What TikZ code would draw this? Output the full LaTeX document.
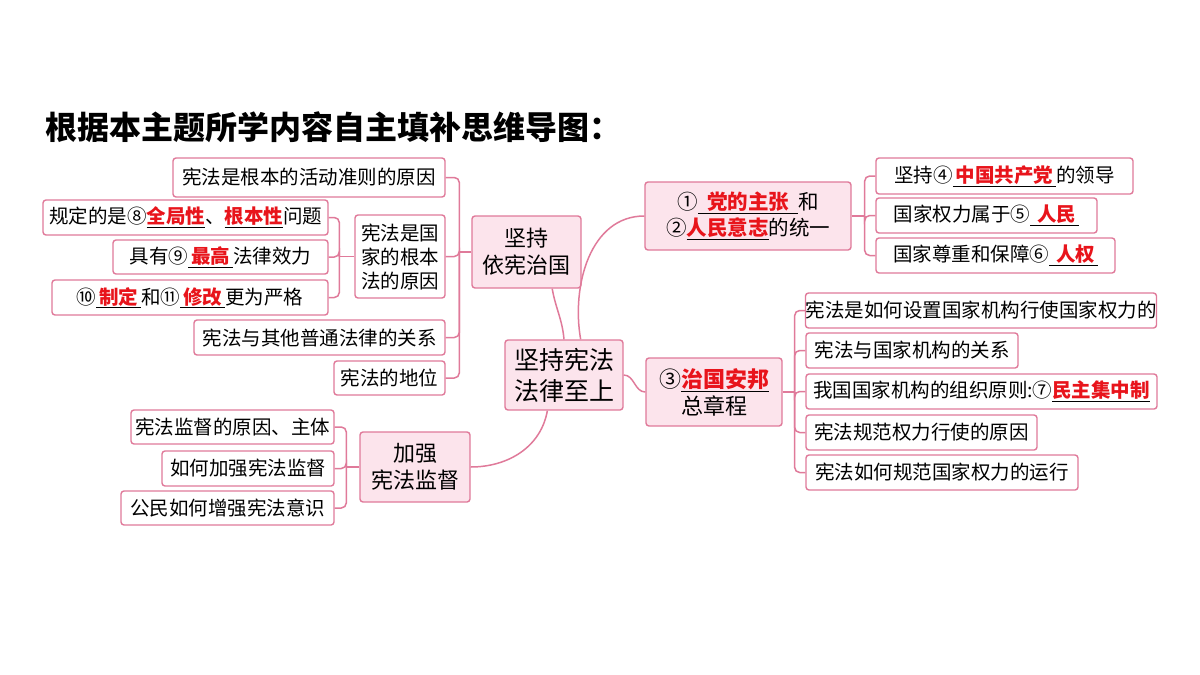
\documentclass[tikz,border=0pt]{standalone}
\usepackage{fontspec}
\setmainfont{Noto Sans CJK SC}
\usepackage{xcolor}
\definecolor{pk}{HTML}{E07A9A}
\definecolor{pkf}{HTML}{FCE4EC}
\definecolor{ansred}{HTML}{E8141B}
\newcommand\ans[1]{\underline{\textcolor{ansred}{\bfseries #1}}}
\newcommand\uans[1]{\underline{\hspace{3pt}\textcolor{ansred}{\bfseries #1}\hspace{3pt}}}
\begin{document}
\begin{tikzpicture}[x=1pt,y=-1pt,
  box/.style={draw=pk,line width=1.4pt,rounded corners=3pt,inner sep=0pt,align=center},
  leaf/.style={box,fill=white,font=\fontsize{19.5}{22}\selectfont},
  main/.style={box,fill=pkf,font=\fontsize{22}{27}\selectfont},
  con/.style={draw=pk,line width=1.5pt},
  br/.style={con,rounded corners=5pt}]
\useasboundingbox[fill=white] (0,0) rectangle (1200,675);
\node[anchor=west,font=\fontsize{32}{36}\selectfont\bfseries] (title) at (42,127) {根据本主题所学内容自主填补思维导图：};
% root
\node[main,minimum width=118pt,minimum height=70pt,font=\fontsize{25}{31}\selectfont] (root) at (564,375) {坚持宪法\\法律至上};
% left top
\node[main,minimum width=109pt,minimum height=72pt] (yx) at (526.5,252) {坚持\\依宪治国};
\node[main,fill=white,minimum width=90pt,minimum height=83pt,font=\fontsize{19.5}{24}\selectfont] (gbf) at (400,256.5) {宪法是国\\家的根本\\法的原因};
\node[leaf,minimum width=272pt,minimum height=39pt] (l1) at (309,177.5) {宪法是根本的活动准则的原因};
\node[leaf,minimum width=285pt,minimum height=35pt] (l2) at (185.5,217.5) {规定的是⑧\ans{全局性}、\ans{根本性}问题};
\node[leaf,minimum width=215pt,minimum height=34pt] (l3) at (220.5,257) {具有⑨\uans{最高}法律效力};
\node[leaf,minimum width=276pt,minimum height=35pt] (l4) at (190,297.5) {⑩\uans{制定}和⑪\uans{修改}更为严格};
\node[leaf,minimum width=251pt,minimum height=35pt] (l5) at (319.5,337.5) {宪法与其他普通法律的关系};
\node[leaf,minimum width=111pt,minimum height=34pt] (l6) at (389.5,378) {宪法的地位};
% left bottom
\node[main,minimum width=110pt,minimum height=70pt] (jd) at (415,467) {加强\\宪法监督};
\node[leaf,minimum width=203pt,minimum height=34pt] (m1) at (232.5,427) {宪法监督的原因、主体};
\node[leaf,minimum width=172pt,minimum height=35pt] (m2) at (248,468.5) {如何加强宪法监督};
\node[leaf,minimum width=213pt,minimum height=34pt] (m3) at (227.5,508) {公民如何增强宪法意识};
% right top
\node[main,minimum width=206pt,minimum height=68pt,font=\fontsize{20.5}{26}\selectfont] (ty) at (748,216) {①\uans{\hspace{6pt}党的主张\hspace{6pt}}和\\②\ans{人民意志}的统一};
\node[leaf,minimum width=257pt,minimum height=36pt] (r1) at (1004.5,176) {坚持④\uans{中国共产党}的领导};
\node[leaf,minimum width=221pt,minimum height=35pt] (r2) at (986.5,215.5) {国家权力属于⑤\uans{\hspace{4pt}人民}};
\node[leaf,minimum width=239pt,minimum height=35pt] (r3) at (995.5,255.5) {国家尊重和保障⑥\uans{\hspace{4pt}人权}};
% right bottom
\node[main,minimum width=136pt,minimum height=68pt] (zg) at (714,392) {③\ans{治国安邦}\\总章程};
\node[leaf,minimum width=350pt,minimum height=35pt] (s1) at (981,310.5) {宪法是如何设置国家机构行使国家权力的};
\node[leaf,minimum width=212pt,minimum height=35pt] (s2) at (912,350.5) {宪法与国家机构的关系};
\node[leaf,minimum width=351pt,minimum height=35pt] (s3) at (981.5,391.5) {我国国家机构的组织原则:⑦\ans{民主集中制}};
\node[leaf,minimum width=231pt,minimum height=35pt] (s4) at (921.5,432.5) {宪法规范权力行使的原因};
\node[leaf,minimum width=272pt,minimum height=35pt] (s5) at (942,472.5) {宪法如何规范国家权力的运行};
% brackets
\draw[con] (yx.west) -- ++(-12,0) coordinate (v1);
\foreach \c in {l1,gbf,l5,l6} \draw[br] (v1) |- (\c.east);
\draw[con] (gbf.west) -- ++(-15,0) coordinate (v2);
\foreach \c in {l2,l3,l4} \draw[br] (v2) |- (\c.east);
\draw[con] (jd.west) -- ++(-13,0) coordinate (v3);
\foreach \c in {m1,m2,m3} \draw[br] (v3) |- (\c.east);
\draw[con] (ty.east) -- ++(13,0) coordinate (v4);
\foreach \c in {r1,r2,r3} \draw[br] (v4) |- (\c.west);
\draw[con] (zg.east) -- ++(12,0) coordinate (v5);
\foreach \c in {s1,s2,s3,s4,s5} \draw[br] (v5) |- (\c.west);
% root connectors
\draw[con] (root.north) to[out=95,in=-80] (yx.-55);
\draw[con] (root.65) to[out=100,in=180] (ty.west);
\draw[con] (root.east) to[out=0,in=180] (zg.west);
\draw[con] (root.-115) to[out=-100,in=0] (jd.east);
\end{tikzpicture}
\end{document}
